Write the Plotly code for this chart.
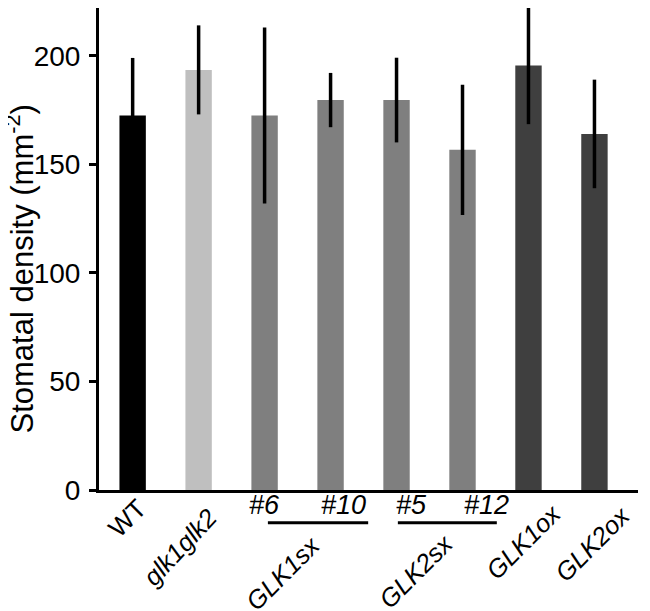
import plotly.graph_objects as go

# ---- data ----
categories = ["WT", "glk1glk2", "GLK1sx #6", "GLK1sx #10", "GLK2sx #5", "GLK2sx #12", "GLK1ox", "GLK2ox"]
density = [172.5, 193.5, 172.5, 179.6, 179.6, 156.7, 195.5, 164.0]
density_err = [26.5, 20.5, 40.5, 12.5, 19.5, 30.0, 27.0, 25.0]
bar_colors = ["#000000", "#bfbfbf", "#7f7f7f", "#7f7f7f", "#7f7f7f", "#7f7f7f", "#3f3f3f", "#3f3f3f"]
y_ticks = [0, 50, 100, 150, 200]

FONT = "Liberation Sans, Arial, Helvetica, sans-serif"

xpos = list(range(len(categories)))

fig = go.Figure()
fig.add_trace(go.Bar(
    x=xpos, y=density,
    marker=dict(color=bar_colors, line=dict(width=0)),
    width=0.4,
    error_y=dict(type="data", array=density_err, visible=True,
                 color="black", thickness=3.5, width=0),
    hoverinfo="skip",
))

# label annotations: (text, x in category units, pixel offset below axis, angle, italic, size)
labels = [
    ("WT", -0.08, -28, -45, False, 26),
    ("glk1glk2", 0.72, -57, -47, True, 25.5),
    ("#6", 2.0, -15, 0, True, 27),
    ("#10", 3.2, -15, 0, True, 27),
    ("#5", 4.23, -15, 0, True, 27),
    ("#12", 5.36, -15, 0, True, 27),
    ("GLK1sx", 2.28, -83, -45, True, 25.5),
    ("GLK2sx", 4.3, -81, -45, True, 25.5),
    ("GLK1ox", 5.92, -52, -45, True, 25.5),
    ("GLK2ox", 6.97, -54, -45, True, 25.5),
]
annotations = []
for txt, xv, dy, ang, it, sz in labels:
    annotations.append(dict(
        x=xv, y=0, xref="x", yref="y", yshift=dy,
        text=f"<i>{txt}</i>" if it else txt,
        textangle=ang, showarrow=False,
        xanchor="center", yanchor="middle",
        font=dict(family=FONT, size=sz, color="black"),
    ))

# y-axis title
annotations.append(dict(
    x=-0.1466, y=0.4595, xref="paper", yref="paper",
    text="Stomatal density (mm<sup>-2</sup>)",
    textangle=-90, showarrow=False, xanchor="center", yanchor="middle",
    font=dict(family=FONT, size=31, color="black"),
))

# group underlines
shapes = []
for x0, x1 in [(2.05, 3.57), (4.02, 5.52)]:
    shapes.append(dict(type="line", xref="x", yref="paper",
                       x0=x0, x1=x1, y0=-0.0678, y1=-0.0678,
                       line=dict(color="black", width=3)))

fig.update_layout(
    width=650, height=611,
    margin=dict(l=91, r=20, t=0, b=129, autoexpand=False),
    paper_bgcolor="white", plot_bgcolor="white",
    showlegend=False,
    annotations=annotations,
    shapes=shapes,
    xaxis=dict(range=[-0.51, 7.66], showticklabels=False, ticks="",
               showline=True, linecolor="black", linewidth=3,
               showgrid=False, zeroline=False, fixedrange=True, automargin=False),
    yaxis=dict(range=[0, 222], tickvals=y_ticks, ticks="outside",
               ticklen=7, tickwidth=3, tickcolor="black",
               showline=True, linecolor="black", linewidth=3,
               showgrid=False, zeroline=False, automargin=False,
               tickfont=dict(family=FONT, size=28, color="black"),
               ticklabelstandoff=3),
    font=dict(family=FONT, color="black"),
)

fig.write_html("out.html")
